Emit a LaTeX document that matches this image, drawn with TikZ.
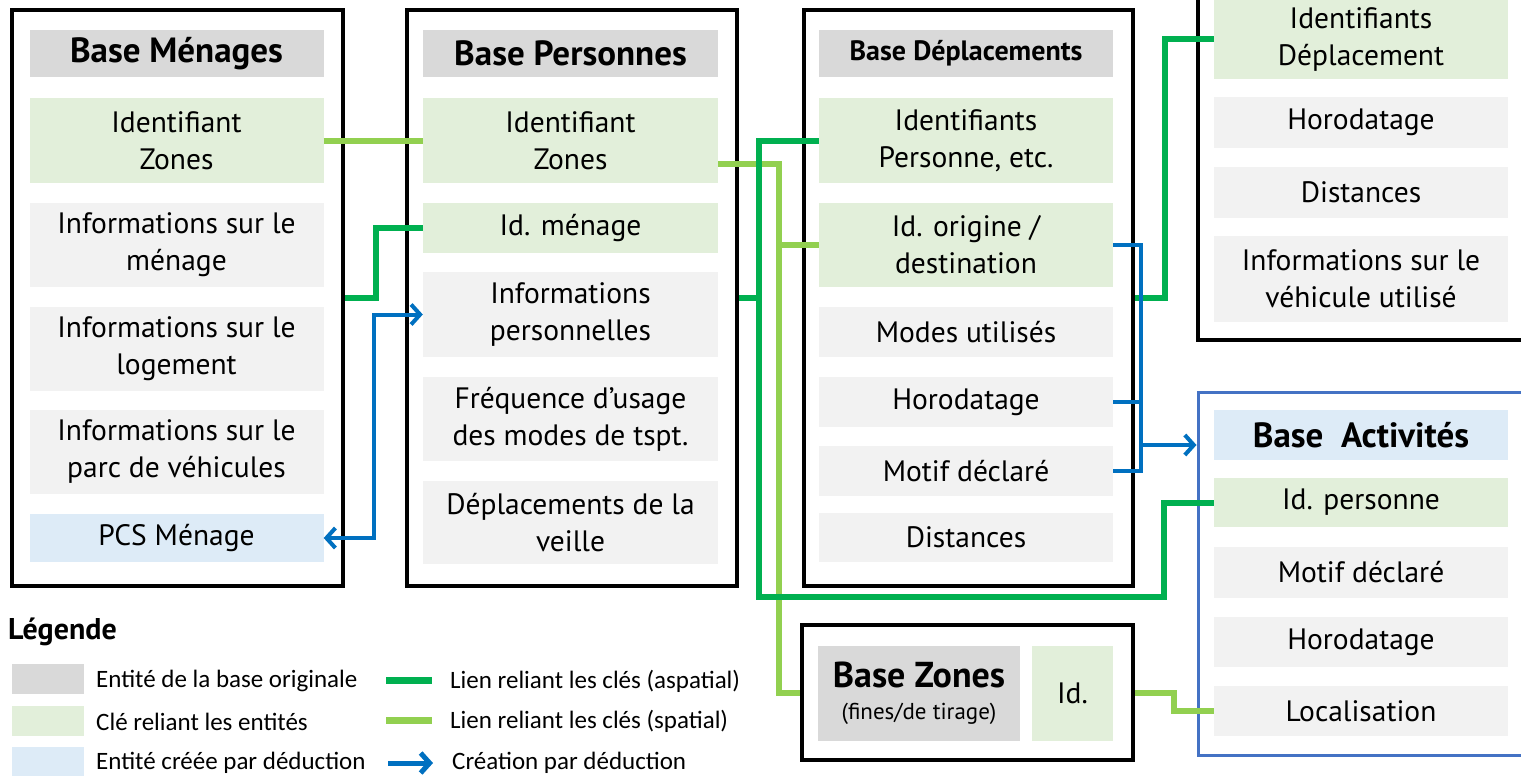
\documentclass[tikz,border=0pt]{standalone}
\usepackage{fontspec}
\setmainfont{PT Sans}
\newfontfamily\legfont{Carlito}
\usetikzlibrary{arrows.meta,calc}
\definecolor{hdr}{HTML}{D9D9D9}
\definecolor{keyc}{HTML}{E2EFDA}
\definecolor{attr}{HTML}{F2F2F2}
\definecolor{ded}{HTML}{DDEBF7}
\definecolor{dkg}{HTML}{00B050}
\definecolor{ltg}{HTML}{92D050}
\definecolor{blu}{HTML}{0070C0}
\definecolor{actb}{HTML}{4472C4}
\begin{document}
\begin{tikzpicture}[x=1pt,y=-1pt,
  cell/.style={inner sep=0pt, align=center, minimum width=294pt, text=black, font=\fontsize{29.5}{37}\selectfont},
  hdrcell/.style={cell, fill=hdr, minimum height=47pt, font=\fontsize{35}{40}\selectfont\bfseries},
  keycell/.style={cell, fill=keyc},
  attrcell/.style={cell, fill=attr},
  dedcell/.style={cell, fill=ded},
  outerbox/.style={draw=black, line width=3.5pt, inner sep=0pt},
  actbox/.style={draw=actb, line width=3pt, inner sep=0pt},
  dkgline/.style={draw=dkg, line width=6pt},
  ltgline/.style={draw=ltg, line width=6pt},
  blueline/.style={draw=blu, line width=4pt},
  bluearr/.style={blueline, -{Straight Barb[length=9pt,width=20pt]}},
  bluedbl/.style={blueline, {Straight Barb[length=9pt,width=20pt]}-{Straight Barb[length=9pt,width=20pt]}},
  legtext/.style={anchor=west, inner sep=0pt, font=\legfont\fontsize{25}{28}\selectfont},
  swatch/.style={inner sep=0pt, minimum width=72pt, minimum height=30pt}
]
\useasboundingbox (0,0) rectangle (1521,776);
\clip (0,0) rectangle (1521,776);
\fill[white] (0,0) rectangle (1521,776);

% ---------- Base Ménages ----------
\node[outerbox, minimum width=331pt, minimum height=576pt] (mBox) at (177.5,298) {};
\node[hdrcell] (mH) at (176.5,53.5) {Base Ménages};
\node[keycell, minimum height=85pt] (mId) at (176.5,140.5) {Identifiant\\Zones};
\node[attrcell, minimum height=84pt] (mInfo) at (176.5,245) {Informations sur le\\ménage};
\node[attrcell, minimum height=84pt] (mLog) at (176.5,349) {Informations sur le\\logement};
\node[attrcell, minimum height=84pt] (mParc) at (176.5,452) {Informations sur le\\parc de véhicules};
\node[dedcell, minimum height=48pt] (mPCS) at (176.5,538) {PCS Ménage};

% ---------- Base Personnes ----------
\node[outerbox, minimum width=330pt, minimum height=576pt] (pBox) at (572,298) {};
\node[hdrcell, minimum width=295pt] (pH) at (570.5,53.5) {Base Personnes};
\node[keycell, minimum width=295pt, minimum height=85pt] (pId) at (570.5,140.5) {Identifiant\\Zones};
\node[keycell, minimum width=295pt, minimum height=50pt] (pMen) at (570.5,228) {Id. ménage};
\node[attrcell, minimum width=295pt, minimum height=85pt] (pInfo) at (570.5,314.5) {Informations\\personnelles};
\node[attrcell, minimum width=295pt, minimum height=84pt] (pFreq) at (570.5,419) {Fréquence d’usage\\des modes de tspt.};
\node[attrcell, minimum width=295pt, minimum height=83pt] (pDep) at (570.5,522.5) {Déplacements de la\\veille};

% ---------- Base Déplacements ----------
\node[outerbox, minimum width=329pt, minimum height=576pt] (dBox) at (968.5,298) {};
\node[hdrcell, font=\fontsize{28}{32}\selectfont\bfseries] (dH) at (966,53.5) {Base Déplacements};
\node[keycell, minimum height=85pt] (dId) at (966,140.5) {Identifiants\\Personne, etc.};
\node[keycell, minimum height=84pt] (dOD) at (966,245) {Id. origine /\\destination};
\node[attrcell, minimum height=50pt] (dModes) at (966,332) {Modes utilisés};
\node[attrcell, minimum height=50pt] (dHoro) at (966,402) {Horodatage};
\node[attrcell, minimum height=50pt] (dMotif) at (966,471) {Motif déclaré};
\node[attrcell, minimum height=49pt] (dDist) at (966,537.5) {Distances};

% ---------- Top-right box (Déplacement details) ----------
\node[outerbox, minimum width=340pt, minimum height=370pt] (tBox) at (1368,155) {};
\node[keycell, minimum height=79pt] (tId) at (1361,39.5) {Identifiants\\Déplacement};
\node[attrcell, minimum height=51pt] (tHoro) at (1361,122.5) {Horodatage};
\node[attrcell, minimum height=51pt] (tDist) at (1361,192.5) {Distances};
\node[attrcell, minimum height=86pt] (tInfo) at (1361,279) {Informations sur le\\véhicule utilisé};

% ---------- Base Activités ----------
\node[actbox, minimum width=340pt, minimum height=363pt] (aBox) at (1368,573.5) {};
\node[dedcell, minimum height=50pt, font=\fontsize{35}{40}\selectfont\bfseries] (aH) at (1361,435) {Base~ Activités};
\node[keycell, minimum height=49pt] (aId) at (1361,502.5) {Id. personne};
\node[attrcell, minimum height=51pt] (aMotif) at (1361,572.5) {Motif déclaré};
\node[attrcell, minimum height=50pt] (aHoro) at (1361,642) {Horodatage};
\node[attrcell, minimum height=50pt] (aLoc) at (1361,711) {Localisation};

% ---------- Base Zones ----------
\node[outerbox, minimum width=331pt, minimum height=135pt] (zBox) at (967.5,692.5) {};
\node[inner sep=0pt, fill=hdr, minimum width=202pt, minimum height=95pt, align=center, font=\fontsize{36}{34}\selectfont] (zH) at (919,693.5) {{\bfseries Base Zones}\\[-2pt]{\fontsize{23}{26}\selectfont (fines/de tirage)}};
\node[keycell, minimum width=81pt, minimum height=95pt] (zId) at (1072.5,693.5) {Id.};

% ---------- Connectors ----------
\coordinate (g1) at (759,597);
\coordinate (g2) at (1164,597);
\coordinate (b1) at (1141,445);
% spatial links (light green)
\draw[ltgline] (mId.east) -- (pId.west);
\draw[ltgline] ($(pId.east)+(0,23)$) -| ($(zBox.west)+(-21,0)$) -- (zBox.west);
\draw[ltgline] (dOD.west) -- ++(-38,0);
\draw[ltgline] (zBox.east) -- ++(39,0) |- (aLoc.west);
% aspatial links (dark green)
\draw[dkgline] (mBox.east) -- ++(31,0) |- (pMen.west);
\draw[dkgline] (dId.west) -| (g1) -- (g2) |- (aId.west);
\draw[dkgline] (pBox.east) -- ++(23,0);
\draw[dkgline] (dBox.east) -- ++(30,0) |- (tId.west);
% deduction arrows (blue)
\draw[bluedbl] (mPCS.east) -- ++(50,0) |- (pInfo.west);
\draw[blueline] (dOD.east) -- ++(28,0) |- (dMotif.east);
\draw[blueline] (dHoro.east) -- ++(28,0);
\draw[bluearr] (b1) -- (b1 -| aBox.west);

% ---------- Legend ----------
\node[anchor=west, inner sep=0pt, font=\fontsize{30}{34}\selectfont\bfseries] (legT) at (8,632) {Légende};
\node[swatch, fill=hdr] (s1) at (48,679) {};
\node[swatch, fill=keyc] (s2) at (48,721) {};
\node[swatch, fill=ded] (s3) at (48,761.5) {};
\node[legtext] (t1) at (96,681) {Entité de la base originale};
\node[legtext] (t2) at (96,722) {Clé reliant les entités};
\node[legtext] (t3) at (96,763) {Entité créée par déduction};
\coordinate (la1) at (386,680); \coordinate (lb1) at (432,680);
\coordinate (la2) at (386,720); \coordinate (lb2) at (432,720);
\coordinate (la3) at (388,763); \coordinate (lb3) at (433,763);
\draw[dkgline, line width=7pt] (la1) -- (lb1);
\draw[ltgline, line width=7pt] (la2) -- (lb2);
\draw[bluearr, line width=5pt] (la3) -- (lb3);
\node[legtext] (t4) at (450,681) {Lien reliant les clés (aspatial)};
\node[legtext] (t5) at (450,721) {Lien reliant les clés (spatial)};
\node[legtext] (t6) at (452,763) {Création par déduction};
\end{tikzpicture}
\end{document}
